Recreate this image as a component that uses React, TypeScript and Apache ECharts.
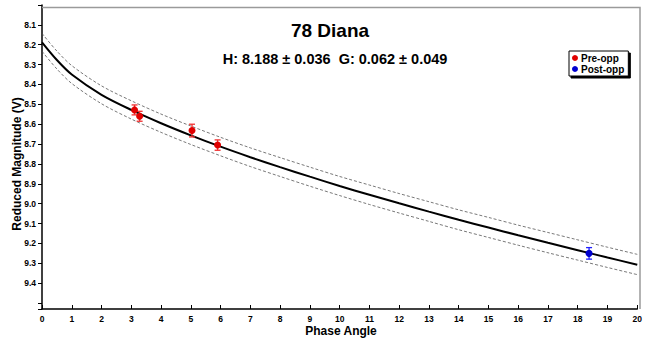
import React, { useEffect, useRef } from "react";
import * as echarts from "echarts";

// Fitted H-G curve and its uncertainty envelope
const phaseAngles = [0, 0.5, 1, 2, 3, 4, 5, 6, 7, 8, 9, 10, 11, 12, 13, 14, 15, 16, 17, 18, 19, 20];
const fitMag = [8.188, 8.277, 8.35, 8.452, 8.528, 8.595, 8.656, 8.713, 8.766, 8.816, 8.864, 8.911, 8.955, 8.998, 9.04, 9.081, 9.12, 9.159, 9.197, 9.234, 9.271, 9.307];
const upperMag = [8.143, 8.232, 8.305, 8.407, 8.482, 8.549, 8.609, 8.666, 8.719, 8.768, 8.816, 8.863, 8.906, 8.949, 8.99, 9.031, 9.069, 9.108, 9.145, 9.182, 9.219, 9.255];
const lowerMag = [8.233, 8.322, 8.395, 8.497, 8.574, 8.641, 8.702, 8.759, 8.813, 8.863, 8.912, 8.959, 9.004, 9.047, 9.089, 9.131, 9.17, 9.209, 9.247, 9.284, 9.321, 9.357];

// Observations
const preAngle = [3.11, 3.28, 5.04, 5.9];
const preMag = [8.528, 8.56, 8.632, 8.705];
const preErr = [0.025, 0.025, 0.032, 0.026];
const postAngle = [18.38];
const postMag = [9.25];
const postErr = [0.029];

const titleText = "78 Diana";
const subtitleText = "H: 8.188 ± 0.036  G: 0.062 ± 0.049";

const FONT = "'Liberation Sans', Arial, sans-serif";

function errBarSeries(name: string, xs: number[], ys: number[], es: number[], color: string) {
  return {
    name,
    type: "custom",
    z: 4,
    data: xs.map((x, i) => [x, ys[i], es[i]]),
    encode: { x: 0, y: 1 },
    renderItem: (_p: any, api: any) => {
      const x = api.value(0);
      const y = api.value(1);
      const e = api.value(2);
      const t = api.coord([x, y - e]);
      const b = api.coord([x, y + e]);
      const w = 3;
      const style = { stroke: color, lineWidth: 1.3 };
      return {
        type: "group",
        children: [
          { type: "line", shape: { x1: t[0], y1: t[1], x2: b[0], y2: b[1] }, style },
          { type: "line", shape: { x1: t[0] - w, y1: t[1], x2: t[0] + w, y2: t[1] }, style },
          { type: "line", shape: { x1: b[0] - w, y1: b[1], x2: b[0] + w, y2: b[1] }, style },
        ],
      };
    },
  };
}

export default function App() {
  const ref = useRef<HTMLDivElement>(null);
  useEffect(() => {
    if (!ref.current) return;
    const chart = echarts.init(ref.current, null, { renderer: "svg" });
    const dashed = { type: [3, 2] as any, width: 0.8, color: "#555" };
    chart.setOption({
      animation: false,
      backgroundColor: "#fff",
      textStyle: { fontFamily: FONT },
      grid: { left: 42, right: 5, top: 5, bottom: 32, containLabel: false },
      graphic: [
        {
          type: "polyline",
          shape: { points: [[42, 7.5], [640, 7.5], [640, 309]] },
          style: { stroke: "#9a9a9a", lineWidth: 1.5, fill: "none" },
          z: 1,
        },
        {
          type: "text",
          x: 330,
          y: 30,
          style: { text: titleText, font: `bold 19px ${FONT}`, fill: "#000", textAlign: "center", textVerticalAlign: "middle" },
        },
        {
          type: "text",
          x: 335,
          y: 59,
          style: { text: subtitleText, font: `bold 14.5px ${FONT}`, fill: "#000", textAlign: "center", textVerticalAlign: "middle" },
        },
        {
          type: "text",
          x: 17,
          y: 164,
          rotation: Math.PI / 2,
          style: { text: "Reduced Magnitude (V)", font: `bold 12px ${FONT}`, fill: "#000", textAlign: "center", textVerticalAlign: "middle" },
        },
        {
          type: "text",
          x: 341,
          y: 331,
          style: { text: "Phase Angle", font: `bold 12px ${FONT}`, fill: "#000", textAlign: "center", textVerticalAlign: "middle" },
        },
      ],
      legend: {
        data: ["Pre-opp", "Post-opp"],
        orient: "vertical",
        left: 569,
        top: 51,
        padding: [2, 4, 2, 3],
        itemGap: 1,
        itemWidth: 6,
        itemHeight: 6,
        icon: "circle",
        backgroundColor: "#fff",
        borderColor: "#000",
        borderWidth: 1,
        borderRadius: 0,
        shadowColor: "#000",
        shadowBlur: 0,
        shadowOffsetX: 2,
        shadowOffsetY: 2,
        textStyle: { fontFamily: FONT, fontWeight: "bold", fontSize: 10, color: "#000", padding: [0, 0, 0, -2], lineHeight: 10 },
      },
      xAxis: {
        type: "value",
        min: 0,
        max: 20,
        interval: 1,
        splitLine: { show: false },
        axisLine: { onZero: false, lineStyle: { color: "#000", width: 1.5 } },
        axisTick: { inside: true, length: 4, lineStyle: { color: "#000" } },
        axisLabel: { fontFamily: FONT, fontWeight: "bold", fontSize: 8.5, color: "#000", margin: 5 },
      },
      yAxis: {
        type: "value",
        inverse: true,
        min: 8.0,
        max: 9.53,
        interval: 0.1,
        splitLine: { show: false },
        axisLine: { onZero: false, lineStyle: { color: "#000", width: 1.5 } },
        axisTick: { inside: false, length: 4, lineStyle: { color: "#000" } },
        axisLabel: {
          fontFamily: FONT,
          fontWeight: "bold",
          fontSize: 8.5,
          color: "#000",
          margin: 6,
          formatter: (v: number) => (v > 8.05 && v < 9.45 ? v.toFixed(1) : ""),
        },
      },
      series: [
        {
          name: "upper",
          type: "line",
          data: phaseAngles.map((a, i) => [a, upperMag[i]]),
          showSymbol: false,
          smooth: 0.3,
          lineStyle: dashed,
          z: 2,
        },
        {
          name: "lower",
          type: "line",
          data: phaseAngles.map((a, i) => [a, lowerMag[i]]),
          showSymbol: false,
          smooth: 0.3,
          lineStyle: dashed,
          z: 2,
        },
        {
          name: "fit",
          type: "line",
          data: phaseAngles.map((a, i) => [a, fitMag[i]]),
          showSymbol: false,
          smooth: 0.3,
          lineStyle: { color: "#000", width: 2 },
          z: 3,
        },
        errBarSeries("preErr", preAngle, preMag, preErr, "#f03030"),
        errBarSeries("postErr", postAngle, postMag, postErr, "#2020ff"),
        {
          name: "Pre-opp",
          type: "scatter",
          data: preAngle.map((a, i) => [a, preMag[i]]),
          symbol: "circle",
          symbolSize: 7,
          itemStyle: { color: "#e00000", opacity: 1 },
          z: 5,
        },
        {
          name: "Post-opp",
          type: "scatter",
          data: postAngle.map((a, i) => [a, postMag[i]]),
          symbol: "circle",
          symbolSize: 7,
          itemStyle: { color: "#0000d0", opacity: 1 },
          z: 5,
        },
      ],
    });
    return () => chart.dispose();
  }, []);
  return <div ref={ref} style={{ position: "fixed", left: 0, top: 0, width: 645, height: 341 }} />;
}
